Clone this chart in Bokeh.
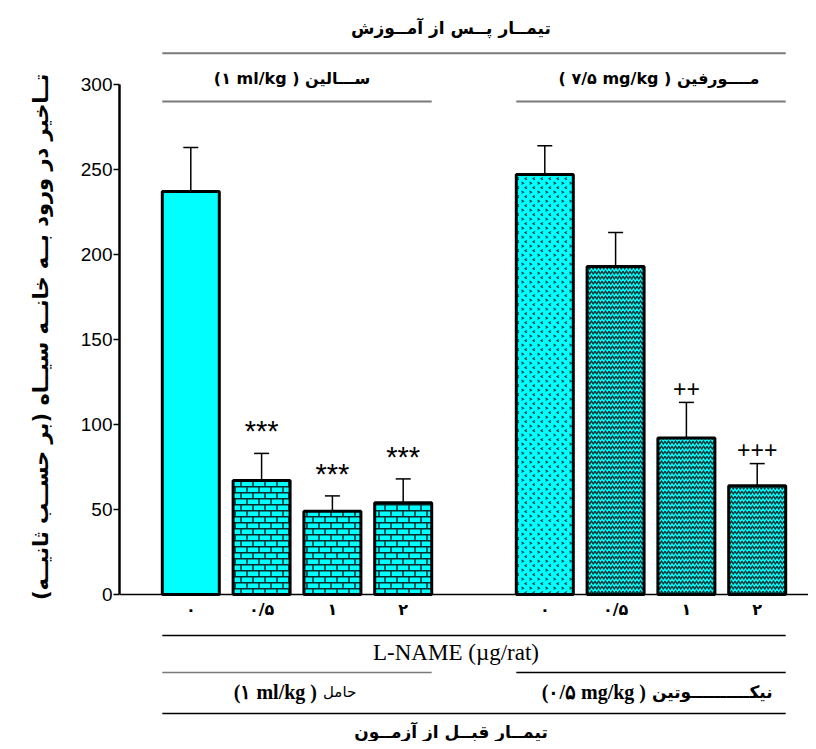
import base64
from bokeh.plotting import figure
from bokeh.models import (ColumnDataSource, Range1d, FixedTicker, Whisker, TeeHead,
                          ImageURLTexture, Title)
from bokeh.core.properties import value, field
from bokeh.embed import file_html
from bokeh.resources import INLINE

# ---------------- data ----------------
doses = ["۰", "۰/۵", "۱", "۲"]
saline_mean = [237, 67, 49, 54]
saline_sem = [26, 16, 9, 14]
morphine_mean = [247, 193, 92, 64]
morphine_sem = [17, 20, 21, 13]
saline_marks = ["", "***", "***", "***"]
morphine_marks = ["", "", "++", "+++"]
y_ticks = [0, 50, 100, 150, 200, 250, 300]

title_top = "تیمــار پــس از آمــوزش"
title_bottom = "تیمــار قبــل از آزمــون"
group_top = ["(۱ ml/kg ) ســـالین", "( ۷/۵ mg/kg ) مــــورفین"]
group_bottom_num = ["(۱ ml/kg )", "(۰/۵ mg/kg )"]
group_bottom_word = ["حامل", "نیکــــــــــوتین"]
x_title = "L-NAME (\u00b5g/rat)"
y_title = "تــاخیر در ورود بــه خانــه سیــاه (بر حســب ثانیــه)\u200f"

# ---------------- layout (pixels) ----------------
W, H = 808, 741
LEFT = 119
PXX = 70.8          # px per category step
PXY = 1.7           # px per y unit
BAR0 = 71.3         # px from frame left to first bar centre
ZERO_FROM_TOP = 594 # px from top of frame to y=0
BAR_W = 0.805

x_start = -BAR0 / PXX
x_end = x_start + (W - LEFT) / PXX
y_end = ZERO_FROM_TOP / PXY
y_start = -(H - ZERO_FROM_TOP) / PXY


def up(px):
    return px / PXY


n = len(doses)
xs, means, sems, hatches, marks, labels = [], [], [], [], [], []
for g, (m, s, mk) in enumerate([(saline_mean, saline_sem, saline_marks),
                                 (morphine_mean, morphine_sem, morphine_marks)]):
    for i in range(n):
        xs.append(g * (n + 1) + i)
        means.append(m[i])
        sems.append(s[i])
        marks.append(mk[i])
        labels.append(doses[i])
        if i == 0:
            hatches.append(" " if g == 0 else "speck")
        else:
            hatches.append("brick" if g == 0 else "zigzag")

src = ColumnDataSource(dict(
    x=xs, top=means,
    upper=[m + s for m, s in zip(means, sems)],
    lower=[m - s for m, s in zip(means, sems)],
    hatch=hatches, mark=marks, label=labels,
))


def svg_url(svg):
    return "data:image/svg+xml;base64," + base64.b64encode(svg.encode()).decode()


brick = svg_url(
    "<svg xmlns='http://www.w3.org/2000/svg' width='12' height='12'>"
    "<path d='M0 0.75H12M0 6.75H12M1 0.75V6.75M7 6.75V12' stroke='#0a2a2a' "
    "stroke-width='1.5' fill='none'/></svg>")
zig = svg_url(
    "<svg xmlns='http://www.w3.org/2000/svg' width='7' height='5'>"
    "<path d='M0 1L1.75 4L3.5 1L5.25 4L7 1' stroke='#0a3535' stroke-width='1.4' fill='none'/></svg>")
speck = svg_url(
    "<svg xmlns='http://www.w3.org/2000/svg' width='8' height='9'>"
    "<path d='M1.5 2L3.5 3.2L1.5 4.4' stroke='#103c3c' stroke-width='1.1' fill='none'/>"
    "<path d='M7 6.5L5 7.7L7 8.9' stroke='#103c3c' stroke-width='1.1' fill='none'/></svg>")

p = figure(width=W, height=H, output_backend="svg", toolbar_location=None,
           x_axis_location=None, y_axis_location="left",
           x_range=Range1d(x_start, x_end), y_range=Range1d(y_start, y_end),
           min_border_left=LEFT, min_border_right=0, min_border_top=0, min_border_bottom=0,
           outline_line_color=None, background_fill_color="white")
p.grid.visible = False

yax = p.yaxis[0]
yax.bounds = (0, 300)
yax.ticker = FixedTicker(ticks=y_ticks)
yax.minor_tick_line_color = None
yax.major_tick_in = 0
yax.major_tick_out = 6
yax.major_tick_line_width = 1.5
yax.axis_line_width = 2.5
yax.major_label_standoff = 1
yax.major_label_text_font = "Liberation Sans"
yax.major_label_text_font_size = "19px"
yax.major_label_text_color = "black"

# y title on the left side
p.add_layout(Title(text=y_title, align="right", offset=73, standoff=45, vertical_align="top",
                   text_font="DejaVu Sans", text_font_style="bold",
                   text_font_size="21px", text_color="black"), "left")

# baseline
p.segment(x0=x_start, y0=0, x1=x_end, y1=0, line_color="black", line_width=1.5)

p.vbar(x="x", top="top", width=BAR_W, bottom=0, source=src,
       fill_color="#00FFFF", line_color="black", line_width=3,
       hatch_pattern=field("hatch"),
       hatch_extra={"brick": ImageURLTexture(url=brick),
                    "zigzag": ImageURLTexture(url=zig),
                    "speck": ImageURLTexture(url=speck)})

p.add_layout(Whisker(base="x", upper="upper", lower="lower", source=src,
                     line_width=1.5, line_color="black",
                     upper_head=TeeHead(size=15, line_width=1.5, line_color="black"),
                     lower_head=TeeHead(size=15, line_width=1.5, line_color="black")))

star_src = ColumnDataSource(dict(
    x=[x for x, m in zip(xs, marks) if m.startswith("*")],
    y=[u for u, m in zip(src.data["upper"], marks) if m.startswith("*")],
    t=[m for m in marks if m.startswith("*")]))
plus_src = ColumnDataSource(dict(
    x=[x for x, m in zip(xs, marks) if m.startswith("+")],
    y=[u for u, m in zip(src.data["upper"], marks) if m.startswith("+")],
    t=[m for m in marks if m.startswith("+")]))
p.text(x="x", y="y", text="t", source=star_src, text_align="center", text_baseline="middle",
       y_offset=-22, text_font=value("Liberation Sans"), text_font_size="29px", text_color="black")
p.text(x="x", y="y", text="t", source=plus_src, text_align="center", text_baseline="middle",
       y_offset=-14, text_font=value("Liberation Sans"), text_font_size="23px", text_color="black")

# x tick labels
p.text(x="x", y=0, text="label", source=src, text_align="center", text_baseline="middle",
       y_offset=15, text_font=value("DejaVu Sans"), text_font_style="bold",
       text_font_size="16px", text_color="black")

# group extents
half = BAR_W / 2
g_left = [xs[0] - half, xs[n] - half]
g_right = [xs[n - 1] + half, xs[-1] + half]
g_mid = [(a + b) / 2 for a, b in zip(g_left, g_right)]
all_l, all_r = g_left[0], g_right[1]
mid_all = (all_l + all_r) / 2

# top block
p.text(x=[mid_all], y=[300 + up(57)], text=[title_top], text_align="center", x_offset=-23,
       text_baseline="middle", text_font=value("DejaVu Sans"), text_font_style="bold",
       text_font_size="17px", text_color="black")
p.segment(x0=[all_l], y0=[300 + up(31.3)], x1=[all_r], y1=[300 + up(31.3)],
          line_color="#7a7a7a", line_width=2)
p.text(x=g_mid, y=[300 + up(6)] * 2, text=group_top, text_align="center",
       text_baseline="middle", x_offset=[-5, 8], text_font=value("DejaVu Sans"),
       text_font_style="bold", text_font_size="16px", text_color="black")
p.segment(x0=g_left, y0=[300 - up(17)] * 2, x1=g_right, y1=[300 - up(17)] * 2,
          line_color="#7a7a7a", line_width=2)

# bottom block
p.segment(x0=[all_l], y0=[-up(41)], x1=[all_r], y1=[-up(41)], line_color="black", line_width=1.5)
p.text(x=[mid_all], y=[-up(58)], text=[x_title], text_align="center", x_offset=-18,
       text_baseline="middle", text_font=value("Liberation Serif"),
       text_font_size="23px", text_color="black")
p.segment(x0=g_left, y0=[-up(78)] * 2, x1=g_right, y1=[-up(78)] * 2,
          line_color=["#7a7a7a", "black"], line_width=1.5)
p.text(x=g_mid, y=[-up(97)] * 2, text=group_bottom_num, text_align="right",
       text_baseline="middle", x_offset=[20, -5], text_font=value("Liberation Serif"),
       text_font_style="bold", text_font_size="20px", text_color="black")
p.text(x=g_mid, y=[-up(97)] * 2, text=group_bottom_word, text_align="left",
       text_baseline="middle", x_offset=[26, 1], text_font=value("DejaVu Sans"),
       text_font_style=["normal", "bold"], text_font_size=["15px", "17px"], text_color="black")
p.segment(x0=[all_l], y0=[-up(119)], x1=[all_r], y1=[-up(119)], line_color="black", line_width=1.5)
p.text(x=[mid_all], y=[-up(137)], text=[title_bottom], text_align="center", x_offset=-23,
       text_baseline="middle", text_font=value("DejaVu Sans"), text_font_style="bold",
       text_font_size="17px", text_color="black")

open("out.html", "w").write(file_html(p, INLINE))
